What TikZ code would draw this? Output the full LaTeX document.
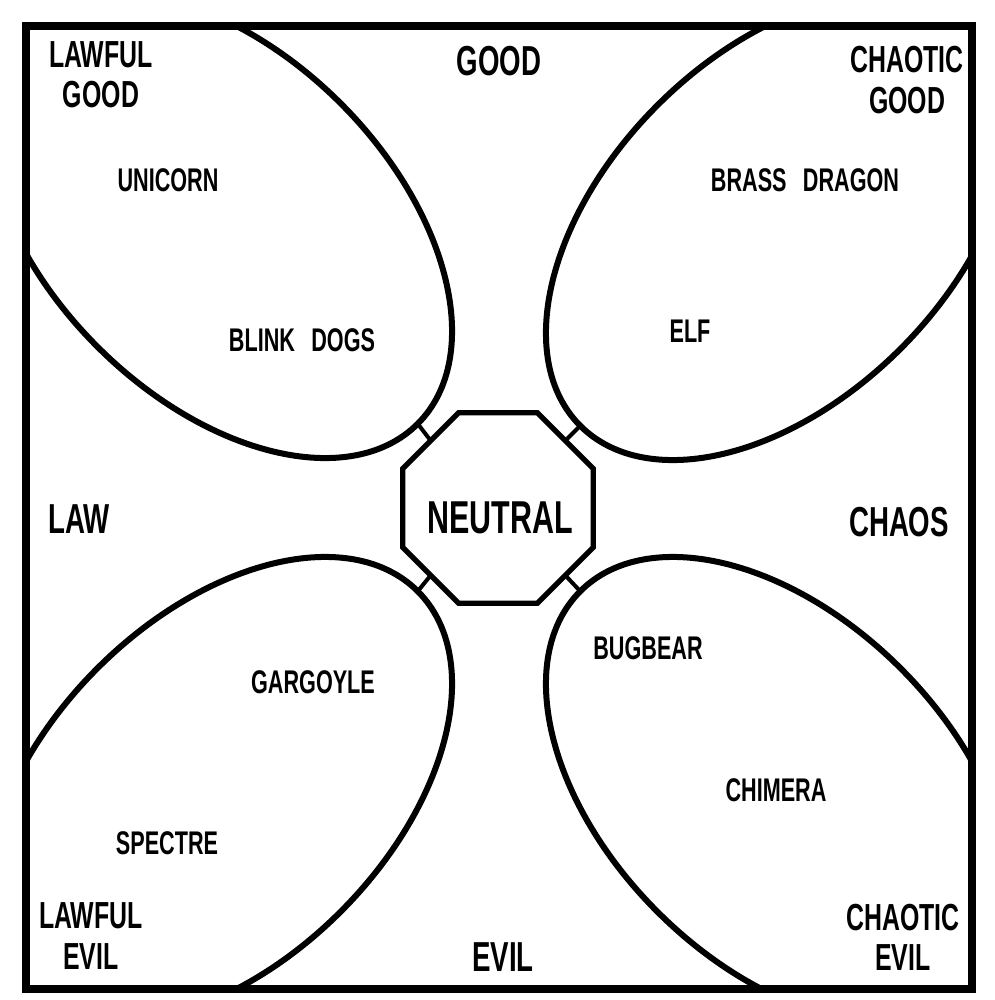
\documentclass[tikz,border=0pt]{standalone}
\usepackage{fontspec}
\setmainfont{Liberation Sans}[FakeStretch=0.66]
\usetikzlibrary{shapes.geometric}
\tikzset{petal/.style={draw,ellipse,line width=0.15cm,inner sep=0pt,outer sep=0pt,minimum width=14.05cm,minimum height=8.6cm}}
\tikzset{hub/.style={draw,regular polygon,regular polygon sides=8,line width=0.13cm,inner sep=0pt,outer sep=0pt,minimum size=5.15cm}}
\tikzset{corner/.style={align=center,inner sep=0pt,font=\bfseries\fontsize{26.8}{28.5}\selectfont}}
\tikzset{axis/.style={inner sep=0pt,font=\bfseries\fontsize{29.8}{30}\selectfont}}
\tikzset{beast/.style={inner sep=0pt,font=\bfseries\fontsize{23.3}{24}\selectfont}}
\tikzset{link/.style={line width=0.1cm}}

\begin{document}
\begin{tikzpicture}[x=0.025cm,y=-0.025cm]
		\useasboundingbox (0,0) rectangle (994,1000);
		% Draw petals
		\begin{scope}
			\clip (26,26) rectangle (972,989);
			\node[petal, rotate=-45] (lg) at (219,225) {};
			\node[petal, rotate=-135] (cg) at (779,227) {};
			\node[petal, rotate=45] (le) at (219,790) {};
			\node[petal, rotate=135] (ce) at (779,790) {};
		\end{scope}
		\draw[line width=0.18cm] (26,26) rectangle (972,989);
		% Draw center
		\node[hub] (octagon) at (498,508) {};
		\node[axis, font=\bfseries\fontsize{32.8}{33}\selectfont] (neutral) at (500,518) {NEUTRAL};
		\draw[link] (octagon.135) -- (lg.east);
		\draw[link] (octagon.45) -- (cg.east);
		\draw[link] (octagon.225) -- (le.east);
		\draw[link] (octagon.315) -- (ce.east);
		% Draw labels
		\node[corner] (lgtext) at (101,75) {LAWFUL\\GOOD};
		\node[corner] (cgtext) at (907,80) {CHAOTIC\\GOOD};
		\node[corner] (letext) at (91,936) {LAWFUL\\EVIL};
		\node[corner] (cetext) at (903,937) {CHAOTIC\\EVIL};
		\node[axis] (good) at (499,61) {GOOD};
		\node[axis] (evil) at (503,957) {EVIL};
		\node[axis] (law) at (79,519) {LAW};
		\node[axis] (chaos) at (899,522) {CHAOS};
		\node[beast] (unicorn) at (168,180) {UNICORN};
		\node[beast] (blink) at (302,340) {BLINK\hspace{0.5em}DOGS};
		\node[beast] (brass) at (805,180) {BRASS\hspace{0.5em}DRAGON};
		\node[beast] (elf) at (690,331) {ELF};
		\node[beast] (gargoyle) at (313,682) {GARGOYLE};
		\node[beast] (spectre) at (167,843) {SPECTRE};
		\node[beast] (bugbear) at (648,648) {BUGBEAR};
		\node[beast] (chimera) at (776,790) {CHIMERA};
	\end{tikzpicture}
\end{document}
